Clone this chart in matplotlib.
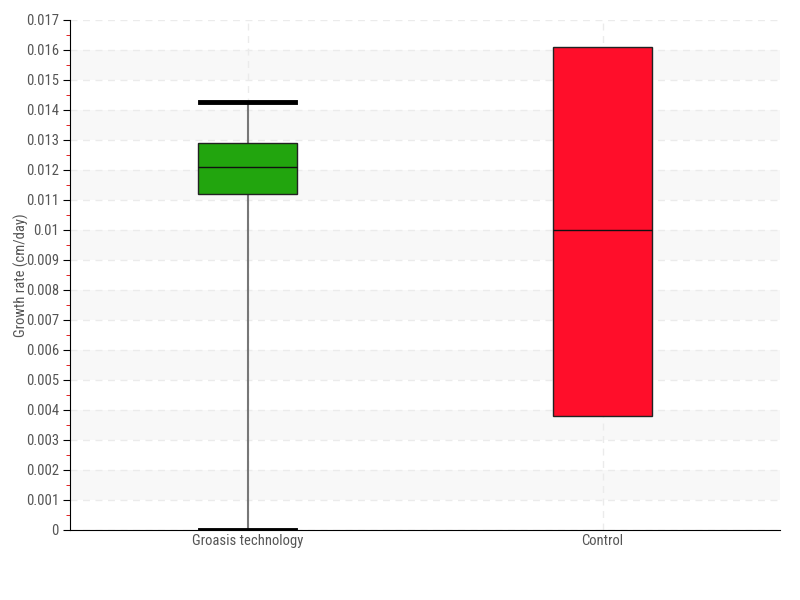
import matplotlib
matplotlib.use("Agg")
import matplotlib.pyplot as plt
import numpy as np
from matplotlib.ticker import MultipleLocator

# Box plot summary
categories = ["Groasis technology", "Control"]
whisker_low = [0.0, 0.0038]
q1 = [0.0112, 0.0038]
median = [0.0121, 0.0100]
q3 = [0.0129, 0.0161]
whisker_high = [0.01427, 0.0161]
box_colors = ["#22a50e", "#ff0e2a"]

plt.rcParams['font.family'] = ['Roboto Condensed', 'Roboto', 'DejaVu Sans']

fig = plt.figure(figsize=(8, 6), dpi=100)
ax = fig.add_axes([0.0875, 0.1167, 0.8875, 0.85])

# alternating background bands
for lo in np.arange(0.001, 0.017, 0.002):
    ax.axhspan(lo, lo + 0.001, color="#f8f8f8", zorder=0, lw=0)

stats = []
for i, name in enumerate(categories):
    stats.append({
        "label": name,
        "whislo": whisker_low[i],
        "q1": q1[i],
        "med": median[i],
        "q3": q3[i],
        "whishi": whisker_high[i],
        "fliers": [],
    })

bp = ax.bxp(stats, positions=range(len(categories)), widths=0.28,
            patch_artist=True, showfliers=False,
            boxprops=dict(edgecolor="#222222", linewidth=1),
            medianprops=dict(color="#111111", linewidth=1),
            whiskerprops=dict(color="#777777", linewidth=1.5),
            capprops=dict(color="black", linewidth=3.5),
            capwidths=0.27)
for patch, c in zip(bp["boxes"], box_colors):
    patch.set_facecolor(c)
    patch.set_zorder(3)
for m in bp["medians"]:
    m.set_zorder(4)
for i in range(len(categories)):
    if whisker_low[i] == q1[i] and whisker_high[i] == q3[i]:
        for art in bp["caps"][2 * i:2 * i + 2] + bp["whiskers"][2 * i:2 * i + 2]:
            art.set_visible(False)

ax.set_xlim(-0.5, 1.5)
ax.set_ylim(0, 0.017)
ax.yaxis.set_major_locator(MultipleLocator(0.001))
ax.yaxis.set_minor_locator(MultipleLocator(0.0005))
ax.set_yticklabels([("%g" % v) for v in ax.get_yticks()])
ax.tick_params(axis="y", which="major", length=5, color="black", labelsize=10.5, labelcolor="#555555", pad=3)
ax.tick_params(axis="y", which="minor", length=3, color="#dd0000")
ax.tick_params(axis="x", length=0, labelsize=10.5, labelcolor="#555555", pad=3)

ax.grid(axis="both", which="major", linestyle=(0, (5, 4)), color="#ebebeb", linewidth=1, zorder=1)
ax.set_axisbelow(True)

for s in ["top", "right"]:
    ax.spines[s].set_visible(False)
ax.spines["left"].set_color("black")
ax.spines["bottom"].set_color("black")

ax.set_ylabel("Growth rate (cm/day)", fontsize=10.5, color="#555555")
ax.yaxis.set_label_coords(-0.058, 0.5)

fig.savefig("out.png", dpi=100)
